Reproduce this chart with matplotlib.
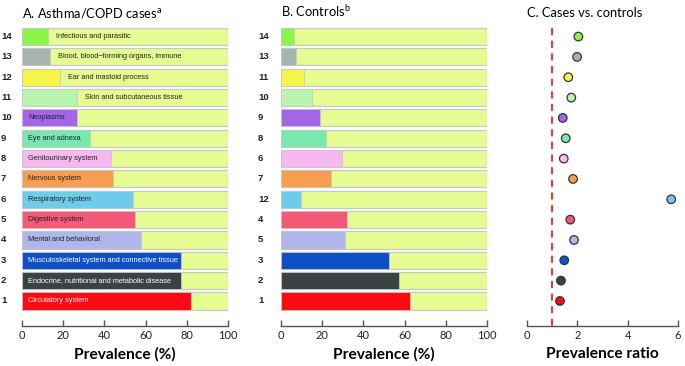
import matplotlib
matplotlib.use("Agg")
import matplotlib.pyplot as plt
from matplotlib.transforms import blended_transform_factory

plt.rcParams["font.family"] = ["Lato", "DejaVu Sans"]
plt.rcParams["mathtext.default"] = "regular"

# categories in order of prevalence among cases (rank 1 = bottom row)
CATEGORIES = [
    "Circulatory system",
    "Endocrine, nutritional and metabolic disease",
    "Musculoskeletal system and connective tissue",
    "Mental and behavioral",
    "Digestive system",
    "Respiratory system",
    "Nervous system",
    "Genitourinary system",
    "Eye and adnexa",
    "Neoplasms",
    "Skin and subcutaneous tissue",
    "Ear and mastoid process",
    "Blood, blood\u2212forming organs, immune",
    "Infectious and parasitic",
]
CASES_RANK = [1, 2, 3, 4, 5, 6, 7, 8, 9, 10, 11, 12, 13, 14]
CONTROLS_RANK = [1, 2, 3, 5, 4, 12, 7, 6, 8, 9, 10, 11, 13, 14]
CASES_PREV = [81.8, 77.1, 77.0, 57.7, 54.9, 53.8, 44.1, 43.1, 33.2, 26.6, 26.6, 18.3, 13.6, 12.5]
CONTROLS_PREV = [62.5, 57.1, 52.6, 31.2, 31.9, 9.5, 24.3, 29.6, 22.0, 18.9, 15.0, 11.2, 7.1, 6.3]
RATIO = [1.31, 1.35, 1.48, 1.87, 1.72, 5.73, 1.83, 1.46, 1.54, 1.42, 1.76, 1.64, 1.99, 2.04]

COLORS = [
    "#ff0a14", "#3a4244", "#0f4fc8", "#b0b6ea", "#f45a78", "#6fcbea", "#f89e52",
    "#f7b8f2", "#78e8ae", "#a466e6", "#b8f5b0", "#f3f54a", "#a7b5b2", "#8cf54a",
]
BG_COLOR = "#e6fb92"
EDGE = "#c8c8c8"
AXIS_COLOR = "#555555"

W, H = 685, 366
fig = plt.figure(figsize=(W / 100, H / 100), dpi=100)

bottom = (H - 326) / H
height = 300 / H
ax_a = fig.add_axes([22 / W, bottom, 206 / W, height])
ax_b = fig.add_axes([281 / W, bottom, 206 / W, height])
ax_c = fig.add_axes([527 / W, bottom, 151 / W, height])

rows = list(range(1, len(CATEGORIES) + 1))
ylim = (-0.23, 14.52)


def style_axis(ax, xlim, xticks, xlabel):
    ax.set_xlim(*xlim)
    ax.set_ylim(*ylim)
    for side in ["top", "right", "left"]:
        ax.spines[side].set_visible(False)
    ax.spines["bottom"].set_color(AXIS_COLOR)
    ax.spines["bottom"].set_linewidth(1.0)
    ax.set_yticks([])
    ax.set_xticks(xticks)
    ax.tick_params(axis="x", direction="in", length=4, width=1.0,
                   color=AXIS_COLOR, labelsize=8, pad=3, labelcolor="#222222")
    ax.set_xlabel(xlabel, fontsize=11.2, fontweight="bold", labelpad=4)


def draw_bars(ax, prev, ranks, x_label_px, show_text):
    ax.barh(rows, [100] * len(rows), height=0.84, color=BG_COLOR,
            edgecolor=EDGE, linewidth=0.9, zorder=1)
    ax.barh(rows, prev, height=0.84, color=COLORS, edgecolor=EDGE,
            linewidth=0.6, zorder=2)
    trans = blended_transform_factory(fig.transFigure, ax.transData)
    for r, rank in zip(rows, ranks):
        ax.text(x_label_px / W, r, str(rank), transform=trans, ha="left",
                va="center", fontsize=6.8, fontweight="bold",
                family="Liberation Sans", color="#222222")
    if not show_text:
        return
    for r, name, p in zip(rows, CATEGORIES, prev):
        if r <= 10:
            x = 3
        else:
            x = p + 4
        color = "white" if r <= 3 else "#222222"
        ax.text(x, r, name, ha="left", va="center", fontsize=5.3,
                family="Liberation Sans", color=color, zorder=3)


draw_bars(ax_a, CASES_PREV, CASES_RANK, 1, True)
style_axis(ax_a, (0, 100), [0, 20, 40, 60, 80, 100], "Prevalence (%)")
ax_a.text(0, 1.03, "A. Asthma/COPD cases$^{a}$", transform=ax_a.transAxes,
          ha="left", va="baseline", fontsize=9.3)

draw_bars(ax_b, CONTROLS_PREV, CONTROLS_RANK, 258, False)
style_axis(ax_b, (0, 100), [0, 20, 40, 60, 80, 100], "Prevalence (%)")
ax_b.text(0, 1.03, "B. Controls$^{b}$", transform=ax_b.transAxes,
          ha="left", va="baseline", fontsize=9.3)

ax_c.axvline(1, color="#ff2020", linestyle=(0, (4, 3)), linewidth=1.3, zorder=1)
ax_c.scatter(RATIO, rows, s=38, c=COLORS, edgecolors="#333333",
             linewidths=0.9, zorder=3)
style_axis(ax_c, (0, 6), [0, 2, 4, 6], "Prevalence ratio")
ax_c.text(0, 1.03, "C. Cases vs. controls", transform=ax_c.transAxes,
          ha="left", va="baseline", fontsize=9.3)

fig.savefig("out.png", dpi=100)
